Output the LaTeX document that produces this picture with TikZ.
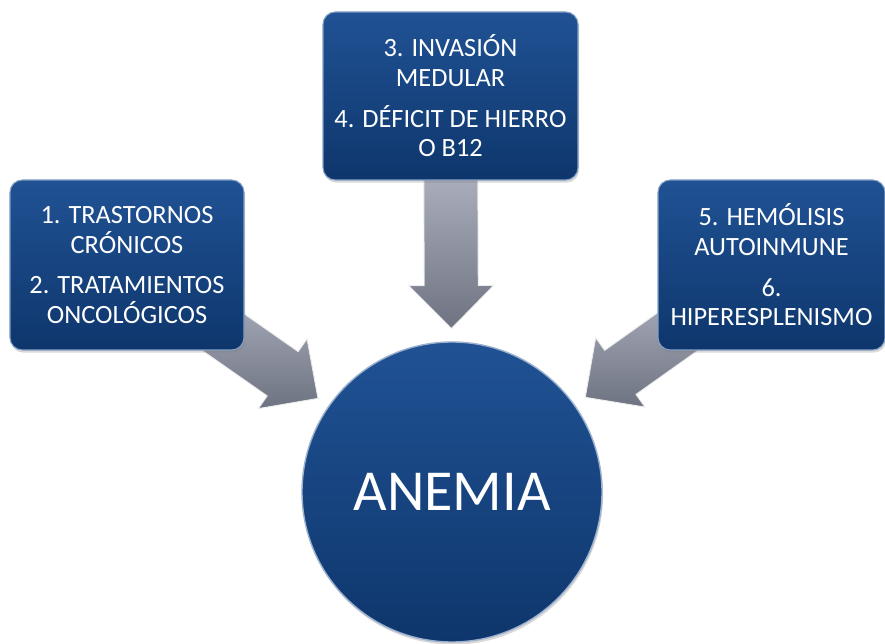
\documentclass[tikz,border=0pt]{standalone}
\usepackage{fontspec}
\setmainfont{Carlito}
\usetikzlibrary{calc,shadows,backgrounds}
\definecolor{boxtop}{RGB}{32,82,148}
\definecolor{boxbot}{RGB}{14,54,108}
\definecolor{arrtop}{RGB}{172,176,190}
\definecolor{arrbot}{RGB}{110,115,130}
\tikzset{
  causa/.style={rectangle, rounded corners=7pt, top color=boxtop, bottom color=boxbot,
    draw=boxtop!55!white, line width=0.6pt, text=white, align=center, inner sep=2pt,
    font=\fontsize{15}{17}\selectfont,
    drop shadow={opacity=0.3, shadow xshift=0.6pt, shadow yshift=-1.5pt}},
  centro/.style={circle, top color=boxtop, bottom color=boxbot, draw=boxtop!45!white,
    line width=0.8pt, text=white, font=\fontsize{33}{36}\selectfont,
    drop shadow={opacity=0.3, shadow xshift=0.6pt, shadow yshift=-1.5pt}},
  flecha/.style={top color=arrtop, bottom color=arrbot, draw=white!85!gray, line width=0.5pt}
}
% block arrow from box #1 to circle #2
\newcommand\blockarrow[2]{%
  \coordinate (#1-s) at ($(#1)!1.5cm!(#2)$);
  \coordinate (#1-t) at ($(#2)!3.27cm!(#1)$);
  \coordinate (#1-h) at ($(#1-t)!0.86cm!(#1-s)$);
  \shade[flecha] ($(#1-s)!0.54cm!90:(#1-t)$) -- ($(#1-h)!0.54cm!90:(#1-t)$)
    -- ($(#1-h)!0.85cm!90:(#1-t)$) -- (#1-t) -- ($(#1-h)!0.85cm!-90:(#1-t)$)
    -- ($(#1-h)!0.54cm!-90:(#1-t)$) -- ($(#1-s)!0.54cm!-90:(#1-t)$) -- cycle;
}
\begin{document}
\begin{tikzpicture}
  \useasboundingbox (0,0) rectangle (17.7,12.88);
  \node[causa, minimum width=4.68cm, minimum height=3.4cm] (cronicos) at (2.54,7.58)
    {1. TRASTORNOS\\CRÓNICOS\\[6pt]2. TRATAMIENTOS\\ONCOLÓGICOS};
  \node[causa, minimum width=5.1cm, minimum height=3.36cm] (medular) at (9.01,10.96)
    {3. INVASIÓN\\MEDULAR\\[6pt]4. DÉFICIT DE HIERRO\\O B12};
  \node[causa, minimum width=4.54cm, minimum height=3.4cm] (hemolisis) at (15.43,7.58)
    {5. HEMÓLISIS\\AUTOINMUNE\\[6pt]6.\\HIPERESPLENISMO};
  \node[centro, minimum size=6cm] (anemia) at (9.04,3.04) {ANEMIA};
  \begin{pgfonlayer}{background}
    \blockarrow{cronicos}{anemia}
    \blockarrow{medular}{anemia}
    \blockarrow{hemolisis}{anemia}
  \end{pgfonlayer}
\end{tikzpicture}
\end{document}
